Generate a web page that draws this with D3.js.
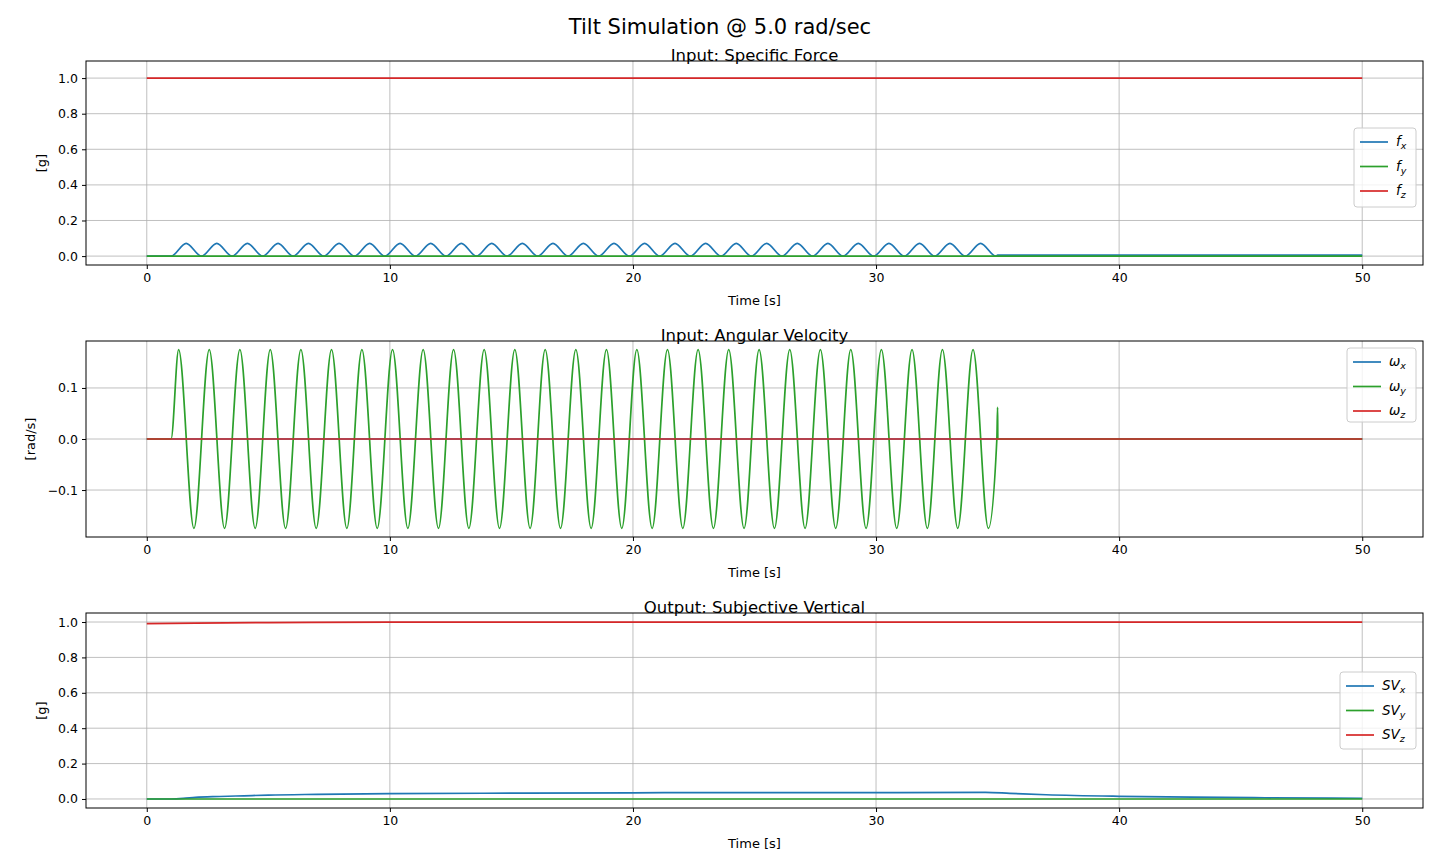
<!DOCTYPE html>
<html><head><meta charset="utf-8">
<script src="https://cdn.jsdelivr.net/npm/d3@7"></script>
<style>body{margin:0;background:#fff}text{font-family:"DejaVu Sans",sans-serif}</style>
</head><body>
<script>
// extrema times of the oscillating angular velocity (peaks/troughs alternate)
var wyExtT = [1.31,1.94,2.57,3.20,3.83,4.46,5.08,5.71,6.34,6.97,7.60,8.23,8.85,9.48,10.11,10.74,11.37,12.00,12.62,13.25,13.88,14.51,15.14,15.77,16.39,17.02,17.65,18.28,18.91,19.54,20.16,20.79,21.42,22.05,22.68,23.31,23.94,24.57,25.19,25.82,26.45,27.08,27.71,28.34,28.96,29.59,30.22,30.85,31.48,32.11,32.73,33.36,33.99,34.62];
var wyAmp = 0.175;
// specific force x bumps: peak times, minima between
var fxPeakT = [1.62,2.88,4.14,5.40,6.65,7.91,9.17,10.42,11.68,12.94,14.19,15.45,16.71,17.96,19.22,20.48,21.73,22.99,24.25,25.50,26.76,28.02,29.27,30.53,31.79,33.04,34.30];
var fxPeak = 0.072;
var svxT = [0,1,1.5,2,3,4,5,7,10,15,20,25,30,34.5,35.5,37,40,43,46,50];
var svxV = [0,0,0.003,0.009,0.014,0.018,0.022,0.026,0.03,0.033,0.035,0.036,0.036,0.037,0.032,0.024,0.015,0.01,0.007,0.004];
var svzT = [0,2,5,10,20,50];
var svzV = [0.991,0.994,0.997,0.999,1.0,1.0];
var xTicks = [0,10,20,30,40,50];

var W=1440,H=864, L=86, R=1423;
var svg=d3.select("body").append("svg").attr("width",W).attr("height",H);
svg.append("text").attr("x",720).attr("y",34).attr("text-anchor","middle").attr("font-size",21).text("Tilt Simulation @ 5.0 rad/sec");
var x=d3.scaleLinear().domain([-2.5,52.5]).range([L,R]);
var C={b:"#1f77b4",g:"#2ca02c",r:"#d62728"};

// build series
var wy=[[0,0],[1,0]];
wyExtT.forEach(function(t,i){wy.push([t,i%2==0?wyAmp:-wyAmp]);});
wy.push([34.97,0.0],[35.0,0.062],[35.01,0],[50,0]);
var fx=[[0,0],[1.0,0]];
fxPeakT.forEach(function(t,i){ if(i>0) fx.push([t-0.63,0]); fx.push([t,fxPeak]); });
fx.push([34.93,0.0],[35,0.005],[50,0.005]);
var svx=svxT.map(function(t,i){return [t,svxV[i]];});
var svz=svzT.map(function(t,i){return [t,svzV[i]];});

var panels=[
 {top:61,bot:265,dom:[-0.05,1.096],ticks:[0,0.2,0.4,0.6,0.8,1.0],fmt:d3.format(".1f"),title:"Input: Specific Force",yl:"[g]",
  series:[{d:fx,c:C.b,curve:d3.curveMonotoneX},{d:[[0,0],[50,0]],c:C.g},{d:[[0,1],[50,1]],c:C.r}],
  leg:{x:1354,y:128,w:62,h:79,names:[["f","x"],["f","y"],["f","z"]]}},
 {top:341,bot:537,dom:[-0.192,0.192],ticks:[-0.1,0,0.1],fmt:function(d){return d<0?"\u22120.1":d3.format(".1f")(d);},title:"Input: Angular Velocity",yl:"[rad/s]",
  series:[{d:[[0,0],[50,0]],c:C.b},{d:wy,c:C.g,curve:d3.curveMonotoneX},{d:[[0,0],[50,0]],c:C.r}],
  leg:{x:1347,y:348,w:69,h:74,names:[["\u03c9","x"],["\u03c9","y"],["\u03c9","z"]]}},
 {top:613,bot:808,dom:[-0.051,1.051],ticks:[0,0.2,0.4,0.6,0.8,1.0],fmt:d3.format(".1f"),title:"Output: Subjective Vertical",yl:"[g]",
  series:[{d:svx,c:C.b,curve:d3.curveMonotoneX},{d:[[0,0],[50,0]],c:C.g},{d:svz,c:C.r,curve:d3.curveMonotoneX}],
  leg:{x:1340,y:672,w:76,h:77,names:[["SV","x"],["SV","y"],["SV","z"]]}}
];

panels.forEach(function(p){
  var y=d3.scaleLinear().domain(p.dom).range([p.bot,p.top]);
  var g=svg.append("g");
  g.selectAll(".gx").data(xTicks).enter().append("line").attr("x1",x).attr("x2",x).attr("y1",p.top).attr("y2",p.bot).attr("stroke","#b0b0b0").attr("stroke-width",0.8);
  g.selectAll(".gy").data(p.ticks).enter().append("line").attr("y1",y).attr("y2",y).attr("x1",L).attr("x2",R).attr("stroke","#b0b0b0").attr("stroke-width",0.8);
  var line=d3.line().x(function(d){return x(d[0]);}).y(function(d){return y(d[1]);});
  p.series.forEach(function(s){
    g.append("path").datum(s.d).attr("d",line.curve(s.curve||d3.curveLinear)).attr("fill","none").attr("stroke",s.c).attr("stroke-width",1.7);
  });
  g.append("g").attr("transform","translate(0,"+p.bot+")").call(d3.axisBottom(x).tickValues(xTicks).tickSize(4).tickPadding(4).tickFormat(d3.format("d")));
  g.append("g").attr("transform","translate("+L+",0)").call(d3.axisLeft(y).tickValues(p.ticks).tickSize(4).tickPadding(4).tickFormat(p.fmt));
  g.selectAll(".tick text").attr("font-size",12.5).attr("font-family","DejaVu Sans").attr("fill","#000");
  g.selectAll(".domain").remove();
  g.append("rect").attr("x",L).attr("y",p.top).attr("width",R-L).attr("height",p.bot-p.top).attr("fill","none").attr("stroke","#000").attr("stroke-width",1);
  g.append("text").attr("x",(L+R)/2).attr("y",p.top-0.5).attr("text-anchor","middle").attr("font-size",16.5).text(p.title);
  g.append("text").attr("x",(L+R)/2).attr("y",p.bot+40).attr("text-anchor","middle").attr("font-size",13).text("Time [s]");
  g.append("text").attr("transform","translate("+(p.yl=="[g]"?46:35)+","+((p.top+p.bot)/2)+") rotate(-90)").attr("text-anchor","middle").attr("font-size",13).text(p.yl);
  var lg=p.leg, cols=[C.b,C.g,C.r];
  g.append("rect").attr("x",lg.x).attr("y",lg.y).attr("width",lg.w).attr("height",lg.h).attr("rx",3).attr("fill","#fff").attr("fill-opacity",0.8).attr("stroke","#ccc");
  lg.names.forEach(function(n,i){
    var yy=lg.y+14+i*24.5;
    g.append("line").attr("x1",lg.x+6).attr("x2",lg.x+34).attr("y1",yy).attr("y2",yy).attr("stroke",cols[i]).attr("stroke-width",1.7);
    var t=g.append("text").attr("x",lg.x+42).attr("y",yy+4).attr("font-size",13.5).attr("font-style","italic");
    t.append("tspan").text(n[0]);
    t.append("tspan").attr("font-size",9.5).attr("dy",3).text(n[1]);
  });
});
</script>
</body></html>
